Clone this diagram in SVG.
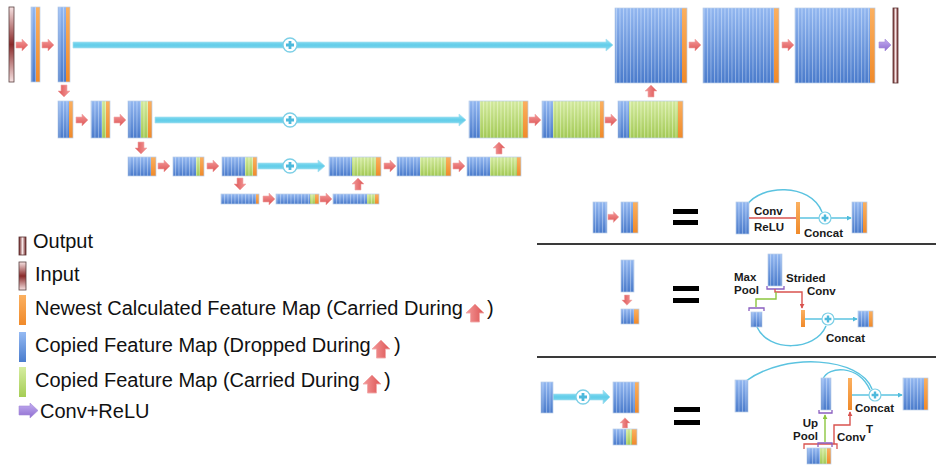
<svg xmlns="http://www.w3.org/2000/svg" xmlns:xlink="http://www.w3.org/1999/xlink" width="936" height="465" viewBox="0 0 936 465">
  <defs>
    <linearGradient id="gBlue" x1="0" y1="0" x2="0" y2="1">
      <stop offset="0" stop-color="#95baf3"/>
      <stop offset="1" stop-color="#4a7ccd"/>
    </linearGradient>
    <linearGradient id="gGreen" x1="0" y1="0" x2="0" y2="1">
      <stop offset="0" stop-color="#d6ed9f"/>
      <stop offset="1" stop-color="#a5cd55"/>
    </linearGradient>
    <linearGradient id="gOrange" x1="0" y1="0" x2="0" y2="1">
      <stop offset="0" stop-color="#fbb060"/>
      <stop offset="1" stop-color="#f08a2a"/>
    </linearGradient>
    <linearGradient id="gRed" x1="0" y1="0" x2="0" y2="1">
      <stop offset="0" stop-color="#f49a9a"/>
      <stop offset="1" stop-color="#dd5454"/>
    </linearGradient>
    <linearGradient id="gPurple" x1="0" y1="0" x2="0" y2="1">
      <stop offset="0" stop-color="#c3aef0"/>
      <stop offset="1" stop-color="#8e6cd0"/>
    </linearGradient>
    <linearGradient id="gCyan" x1="0" y1="0" x2="0" y2="1">
      <stop offset="0" stop-color="#9fe6f7"/>
      <stop offset="0.5" stop-color="#62cde9"/>
      <stop offset="1" stop-color="#8fdcf0"/>
    </linearGradient>
    <linearGradient id="gIn" x1="0" y1="0" x2="0" y2="1">
      <stop offset="0" stop-color="#f6e2e2"/>
      <stop offset="0.5" stop-color="#8a2a2a"/>
      <stop offset="1" stop-color="#f6e2e2"/>
    </linearGradient>
    <linearGradient id="gOut" x1="0" y1="0" x2="1" y2="0">
      <stop offset="0" stop-color="#6a1d1d"/>
      <stop offset="0.5" stop-color="#f6e6e6"/>
      <stop offset="1" stop-color="#6a1d1d"/>
    </linearGradient>
    <pattern id="stripes" patternUnits="userSpaceOnUse" width="3.5" height="10">
      <rect x="0" y="0" width="0.9" height="10" fill="#ffffff" fill-opacity="0.35"/>
      <rect x="2.2" y="0" width="0.6" height="10" fill="#203060" fill-opacity="0.08"/>
    </pattern>
    <path id="ra" d="M0,-3H6V-6L12,0L6,6V3H0Z"/>
    <g id="plus">
      <circle r="7" fill="#ffffff" stroke="#7ccfe6" stroke-width="1.3"/>
      <path d="M-4,0H4M0,-4V4" stroke="#4db9dc" stroke-width="2.8"/>
    </g>
    <g id="plusS">
      <circle r="6" fill="#ffffff" stroke="#7ccfe6" stroke-width="1.2"/>
      <path d="M-3.4,0H3.4M0,-3.4V3.4" stroke="#4db9dc" stroke-width="2.4"/>
    </g>
    <marker id="mc" viewBox="0 0 6 6" refX="5" refY="3" markerWidth="5" markerHeight="5" orient="auto" markerUnits="userSpaceOnUse">
      <path d="M0,0L6,3L0,6Z" fill="#4fbcdc"/>
    </marker>
    <marker id="mr" viewBox="0 0 6 6" refX="5" refY="3" markerWidth="5" markerHeight="5" orient="auto" markerUnits="userSpaceOnUse">
      <path d="M0,0L6,3L0,6Z" fill="#d9534f"/>
    </marker>
    <marker id="mg" viewBox="0 0 6 6" refX="5" refY="3" markerWidth="5" markerHeight="5" orient="auto" markerUnits="userSpaceOnUse">
      <path d="M0,0L6,3L0,6Z" fill="#8cc63f"/>
    </marker>
    <style>
      .b{fill:url(#gBlue)}
      .g{fill:url(#gGreen)}
      .o{fill:url(#gOrange)}
      .st{fill:url(#stripes)}
      .fr{fill:none;stroke:#b9cde8;stroke-width:0.7}
      .ra{fill:url(#gRed);stroke:#f0aaaa;stroke-width:0.6}
      .pa{fill:url(#gPurple);stroke:#a58bd9;stroke-width:0.6}
      .cy{fill:url(#gCyan);stroke:#a6e0f0;stroke-width:0.7}
      .ln{fill:none;stroke:#5bc3e0;stroke-width:1.5}
      .lr{fill:none;stroke:#d9534f;stroke-width:1.4}
      .lg{fill:none;stroke:#8cc63f;stroke-width:1.4}
      .br{fill:none;stroke:#8a5fc0;stroke-width:1.3}
      .brr{fill:none;stroke:#d9534f;stroke-width:1.3}
      .eq{fill:#000000}
      .sep{stroke:#3a3a3a;stroke-width:2}
      .lbl{font-family:"Liberation Sans",Arial,sans-serif;font-weight:bold;font-size:11.5px;fill:#1a1a1a}
      .leg{font-family:"Liberation Sans",Arial,sans-serif;font-size:20px;fill:#111111}
    </style>
  </defs>

  <rect width="936" height="465" fill="#ffffff"/>

  <!-- connectors: skip links, arrows -->
  <g id="connectors">
    <path class="cy" d="M73,42H606V39L613,45L606,51V48H73Z"/>
    <use href="#plus" x="290" y="45"/>
    <path class="cy" d="M155,117H459V114L466,120L459,126V123H155Z"/>
    <use href="#plus" x="290" y="120"/>
    <path class="cy" d="M258,163H318V160L325,166L318,172V169H258Z"/>
    <use href="#plus" x="290" y="166"/>

    <use href="#ra" class="ra" transform="translate(16,45)"/>
    <use href="#ra" class="ra" transform="translate(42,45)"/>
    <use href="#ra" class="ra" transform="translate(64,85) rotate(90)"/>
    <use href="#ra" class="ra" transform="translate(76,120)"/>
    <use href="#ra" class="ra" transform="translate(114,120)"/>
    <use href="#ra" class="ra" transform="translate(141,142) rotate(90)"/>
    <use href="#ra" class="ra" transform="translate(158,166)"/>
    <use href="#ra" class="ra" transform="translate(207,166)"/>
    <use href="#ra" class="ra" transform="translate(240,178) rotate(90)"/>
    <use href="#ra" class="ra" transform="translate(263,199)"/>
    <use href="#ra" class="ra" transform="translate(320,199)"/>
    <use href="#ra" class="ra" transform="translate(358,190) rotate(-90)"/>
    <use href="#ra" class="ra" transform="translate(384,166)"/>
    <use href="#ra" class="ra" transform="translate(453,166)"/>
    <use href="#ra" class="ra" transform="translate(499,154) rotate(-90)"/>
    <use href="#ra" class="ra" transform="translate(529,120)"/>
    <use href="#ra" class="ra" transform="translate(605,120)"/>
    <use href="#ra" class="ra" transform="translate(651,97) rotate(-90)"/>
    <use href="#ra" class="ra" transform="translate(689,45)"/>
    <use href="#ra" class="ra" transform="translate(782,45)"/>
    <use href="#ra" class="pa" transform="translate(879,45)"/>
  </g>

  <!-- level 1 -->
  <g id="input"><rect x="9" y="7" width="5" height="75" fill="url(#gIn)" stroke="#5a4040" stroke-width="0.8"/></g>
  <g id="e1"><rect class="b" x="31" y="7" width="5" height="75"/><rect class="st" x="31" y="7" width="5" height="75"/><rect class="o" x="36" y="7" width="4" height="75"/><rect class="fr" x="31" y="7" width="9" height="75"/></g>
  <g id="e2"><rect class="b" x="58" y="7" width="8" height="75"/><rect class="st" x="58" y="7" width="8" height="75"/><rect class="o" x="66" y="7" width="4" height="75"/><rect class="fr" x="58" y="7" width="12" height="75"/></g>
  <g id="d1"><rect class="b" x="615" y="8" width="67" height="75"/><rect class="st" x="615" y="8" width="67" height="75"/><rect class="o" x="682" y="8" width="5" height="75"/><rect class="fr" x="615" y="8" width="72" height="75"/></g>
  <g id="d2"><rect class="b" x="703" y="8" width="71" height="75"/><rect class="st" x="703" y="8" width="71" height="75"/><rect class="o" x="774" y="8" width="5" height="75"/><rect class="fr" x="703" y="8" width="76" height="75"/></g>
  <g id="d3"><rect class="b" x="795" y="8" width="75" height="75"/><rect class="st" x="795" y="8" width="75" height="75"/><rect class="o" x="870" y="8" width="5" height="75"/><rect class="fr" x="795" y="8" width="80" height="75"/></g>
  <g id="output"><rect x="893" y="8" width="5" height="75" fill="url(#gOut)" stroke="#5a3030" stroke-width="0.8"/></g>

  <!-- level 2 -->
  <g id="e3"><rect class="b" x="58" y="101" width="11" height="37"/><rect class="st" x="58" y="101" width="11" height="37"/><rect class="o" x="69" y="101" width="4" height="37"/><rect class="fr" x="58" y="101" width="15" height="37"/></g>
  <g id="e4"><rect class="b" x="91" y="101" width="11" height="37"/><rect class="g" x="102" y="101" width="4" height="37"/><rect class="st" x="91" y="101" width="15" height="37"/><rect class="o" x="106" y="101" width="4" height="37"/><rect class="fr" x="91" y="101" width="19" height="37"/></g>
  <g id="e5"><rect class="b" x="128" y="101" width="13" height="37"/><rect class="g" x="141" y="101" width="7" height="37"/><rect class="st" x="128" y="101" width="20" height="37"/><rect class="o" x="148" y="101" width="4" height="37"/><rect class="fr" x="128" y="101" width="24" height="37"/></g>
  <g id="u2a"><rect class="b" x="469" y="101" width="11" height="37"/><rect class="g" x="480" y="101" width="43" height="37"/><rect class="st" x="469" y="101" width="54" height="37"/><rect class="o" x="523" y="101" width="5" height="37"/><rect class="fr" x="469" y="101" width="59" height="37"/></g>
  <g id="u2b"><rect class="b" x="542" y="101" width="11" height="37"/><rect class="g" x="553" y="101" width="47" height="37"/><rect class="st" x="542" y="101" width="58" height="37"/><rect class="o" x="600" y="101" width="4" height="37"/><rect class="fr" x="542" y="101" width="62" height="37"/></g>
  <g id="u2c"><rect class="b" x="618" y="101" width="11" height="37"/><rect class="g" x="629" y="101" width="49" height="37"/><rect class="st" x="618" y="101" width="60" height="37"/><rect class="o" x="678" y="101" width="5" height="37"/><rect class="fr" x="618" y="101" width="65" height="37"/></g>

  <!-- level 3 -->
  <g id="e6"><rect class="b" x="128" y="157" width="23" height="19"/><rect class="st" x="128" y="157" width="23" height="19"/><rect class="o" x="151" y="157" width="5" height="19"/><rect class="fr" x="128" y="157" width="28" height="19"/></g>
  <g id="e7"><rect class="b" x="173" y="157" width="23" height="19"/><rect class="g" x="196" y="157" width="4" height="19"/><rect class="st" x="173" y="157" width="27" height="19"/><rect class="o" x="200" y="157" width="4" height="19"/><rect class="fr" x="173" y="157" width="31" height="19"/></g>
  <g id="e8"><rect class="b" x="222" y="157" width="23" height="19"/><rect class="g" x="245" y="157" width="8" height="19"/><rect class="st" x="222" y="157" width="31" height="19"/><rect class="o" x="253" y="157" width="4" height="19"/><rect class="fr" x="222" y="157" width="35" height="19"/></g>
  <g id="u3a"><rect class="b" x="329" y="157" width="23" height="19"/><rect class="g" x="352" y="157" width="24" height="19"/><rect class="st" x="329" y="157" width="47" height="19"/><rect class="o" x="376" y="157" width="5" height="19"/><rect class="fr" x="329" y="157" width="52" height="19"/></g>
  <g id="u3b"><rect class="b" x="397" y="157" width="23" height="19"/><rect class="g" x="420" y="157" width="26" height="19"/><rect class="st" x="397" y="157" width="49" height="19"/><rect class="o" x="446" y="157" width="5" height="19"/><rect class="fr" x="397" y="157" width="54" height="19"/></g>
  <g id="u3c"><rect class="b" x="467" y="157" width="23" height="19"/><rect class="g" x="490" y="157" width="27" height="19"/><rect class="st" x="467" y="157" width="50" height="19"/><rect class="o" x="517" y="157" width="4" height="19"/><rect class="fr" x="467" y="157" width="54" height="19"/></g>

  <!-- level 4 -->
  <g id="b1"><rect class="b" x="221" y="194" width="35" height="10"/><rect class="st" x="221" y="194" width="35" height="10"/><rect class="o" x="256" y="194" width="3" height="10"/><rect class="fr" x="221" y="194" width="38" height="10"/></g>
  <g id="b2"><rect class="b" x="276" y="194" width="34" height="10"/><rect class="g" x="310" y="194" width="5" height="10"/><rect class="st" x="276" y="194" width="39" height="10"/><rect class="o" x="315" y="194" width="4" height="10"/><rect class="fr" x="276" y="194" width="43" height="10"/></g>
  <g id="b3"><rect class="b" x="333" y="194" width="34" height="10"/><rect class="g" x="367" y="194" width="8" height="10"/><rect class="st" x="333" y="194" width="42" height="10"/><rect class="o" x="375" y="194" width="4" height="10"/><rect class="fr" x="333" y="194" width="46" height="10"/></g>

  <!-- legend -->
  <g id="legend">
    <rect x="19" y="237" width="7" height="18" fill="url(#gOut)" stroke="#5a3030" stroke-width="0.8"/>
    <text class="leg" x="33" y="248">Output</text>
    <rect x="19" y="262" width="7" height="28" fill="url(#gIn)" stroke="#5a4040" stroke-width="0.8"/>
    <text class="leg" x="35" y="281">Input</text>
    <rect class="o" x="19" y="295" width="7" height="30"/>
    <text class="leg" x="35" y="315">Newest Calculated Feature Map (Carried During</text>
    <use href="#ra" class="ra" transform="translate(475,322) rotate(-90) scale(1.5)"/>
    <text class="leg" x="487" y="315">)</text>
    <rect class="b" x="19" y="332" width="7" height="30"/>
    <text class="leg" x="35" y="352">Copied Feature Map (Dropped During</text>
    <use href="#ra" class="ra" transform="translate(381,358) rotate(-90) scale(1.5)"/>
    <text class="leg" x="394" y="352">)</text>
    <rect class="g" x="19" y="367" width="7" height="30"/>
    <text class="leg" x="35" y="387">Copied Feature Map (Carried During</text>
    <use href="#ra" class="ra" transform="translate(372,393) rotate(-90) scale(1.5)"/>
    <text class="leg" x="384" y="387">)</text>
    <path class="pa" d="M19,406H30V403L38,410.5L30,418V415H19Z"/>
    <text class="leg" x="40" y="418">Conv+ReLU</text>
  </g>

  <!-- separators -->
  <line class="sep" x1="537" y1="244" x2="936" y2="244"/>
  <line class="sep" x1="537" y1="357" x2="936" y2="357"/>

  <!-- panel 1: conv block -->
  <g id="p1-left">
    <rect class="b" x="593" y="202" width="14" height="31"/><rect class="st" x="593" y="202" width="14" height="31"/><rect class="fr" x="593" y="202" width="14" height="31"/>
    <use href="#ra" class="ra" transform="translate(608,217) scale(0.9)"/>
    <rect class="b" x="621" y="202" width="12" height="31"/><rect class="st" x="621" y="202" width="12" height="31"/><rect class="o" x="633" y="202" width="5" height="31"/><rect class="fr" x="621" y="202" width="17" height="31"/>
  </g>
  <g id="p1-eq"><rect class="eq" x="673" y="209" width="25" height="5"/><rect class="eq" x="673" y="220" width="25" height="5"/></g>
  <g id="p1-right">
    <path class="ln" d="M747,205C760,185 810,182 822,212"/>
    <rect class="b" x="736" y="202" width="13" height="32"/><rect class="st" x="736" y="202" width="13" height="32"/><rect class="fr" x="736" y="202" width="13" height="32"/>
    <line class="lr" x1="749" y1="218" x2="796" y2="218"/>
    <text class="lbl" x="754" y="215">Conv</text>
    <text class="lbl" x="754" y="231">ReLU</text>
    <rect class="o" x="796" y="202" width="4" height="32"/>
    <line class="ln" x1="800" y1="218" x2="851" y2="218" marker-end="url(#mc)"/>
    <use href="#plusS" x="825" y="218"/>
    <text class="lbl" x="804" y="237">Concat</text>
    <rect class="b" x="852" y="202" width="11" height="31"/><rect class="st" x="852" y="202" width="11" height="31"/><rect class="o" x="863" y="202" width="4" height="31"/><rect class="fr" x="852" y="202" width="15" height="31"/>
  </g>

  <!-- panel 2: down-sampling block -->
  <g id="p2-left">
    <rect class="b" x="621" y="260" width="13" height="32"/><rect class="st" x="621" y="260" width="13" height="32"/><rect class="fr" x="621" y="260" width="13" height="32"/>
    <use href="#ra" class="ra" transform="translate(627,295) rotate(90) scale(0.85)"/>
    <rect class="b" x="621" y="309" width="13" height="15"/><rect class="st" x="621" y="309" width="13" height="15"/><rect class="o" x="634" y="309" width="5" height="15"/><rect class="fr" x="621" y="309" width="18" height="15"/>
  </g>
  <g id="p2-eq"><rect class="eq" x="673" y="286" width="26" height="5"/><rect class="eq" x="673" y="298" width="26" height="5"/></g>
  <g id="p2-right">
    <path class="ln" d="M757,327C768,352 815,352 826,326"/>
    <rect class="b" x="768" y="254" width="14" height="32"/><rect class="st" x="768" y="254" width="14" height="32"/><rect class="fr" x="768" y="254" width="14" height="32"/>
    <path class="br" d="M767,286V289H784V286"/>
    <path class="lr" d="M775,289V292H802V308" marker-end="url(#mr)"/>
    <path class="lg" d="M776,292V299H756V307"/>
    <path class="br" d="M749,311V308H764V311"/>
    <rect class="b" x="751" y="312" width="11" height="15"/><rect class="st" x="751" y="312" width="11" height="15"/><rect class="fr" x="751" y="312" width="11" height="15"/>
    <rect class="o" x="801" y="310" width="4" height="17"/>
    <line class="ln" x1="805" y1="319" x2="857" y2="319" marker-end="url(#mc)"/>
    <use href="#plusS" x="828" y="319"/>
    <rect class="b" x="858" y="311" width="11" height="16"/><rect class="st" x="858" y="311" width="11" height="16"/><rect class="o" x="869" y="311" width="4" height="16"/><rect class="fr" x="858" y="311" width="15" height="16"/>
    <text class="lbl" x="734" y="281">Max</text>
    <text class="lbl" x="734" y="294">Pool</text>
    <text class="lbl" x="786" y="282">Strided</text>
    <text class="lbl" x="807" y="295">Conv</text>
    <text class="lbl" x="826" y="342">Concat</text>
  </g>

  <!-- panel 3: up-sampling block -->
  <g id="p3-left">
    <path class="cy" d="M553,394H603V390L610,397L603,404V400H553Z"/>
    <use href="#plus" x="583" y="397"/>
    <rect class="b" x="541" y="382" width="12" height="31"/><rect class="st" x="541" y="382" width="12" height="31"/><rect class="fr" x="541" y="382" width="12" height="31"/>
    <rect class="b" x="613" y="382" width="22" height="31"/><rect class="st" x="613" y="382" width="22" height="31"/><rect class="o" x="635" y="382" width="4" height="31"/><rect class="fr" x="613" y="382" width="26" height="31"/>
    <use href="#ra" class="ra" transform="translate(625,428) rotate(-90) scale(0.85)"/>
    <rect class="b" x="613" y="429" width="13" height="16"/><rect class="g" x="626" y="429" width="6" height="16"/><rect class="st" x="613" y="429" width="19" height="16"/><rect class="o" x="632" y="429" width="5" height="16"/><rect class="fr" x="613" y="429" width="24" height="16"/>
  </g>
  <g id="p3-eq"><rect class="eq" x="674" y="407" width="26" height="5"/><rect class="eq" x="674" y="420" width="26" height="5"/></g>
  <g id="p3-right">
    <path class="ln" d="M746,381C785,352 860,357 872,389"/>
    <path class="ln" d="M823,379C828,366 858,364 870,390"/>
    <rect class="b" x="735" y="380" width="13" height="32"/><rect class="st" x="735" y="380" width="13" height="32"/><rect class="fr" x="735" y="380" width="13" height="32"/>
    <rect class="b" x="821" y="378" width="10" height="32"/><rect class="st" x="821" y="378" width="10" height="32"/><rect class="fr" x="821" y="378" width="10" height="32"/>
    <path class="br" d="M819,410V413H832V410"/>
    <rect class="o" x="848" y="378" width="4" height="32"/>
    <line class="ln" x1="852" y1="395" x2="902" y2="395" marker-end="url(#mc)"/>
    <use href="#plusS" x="875" y="395"/>
    <rect class="b" x="903" y="378" width="21" height="32"/><rect class="st" x="903" y="378" width="21" height="32"/><rect class="o" x="924" y="378" width="4" height="32"/><rect class="fr" x="903" y="378" width="25" height="32"/>
    <line class="lg" x1="825" y1="442" x2="825" y2="415" marker-end="url(#mg)"/>
    <path class="lr" d="M834,444V425H850V412" marker-end="url(#mr)"/>
    <path class="brr" d="M804,449V444H837V449"/>
    <path class="br" d="M818,447V443H832V447"/>
    <rect class="b" x="807" y="448" width="13" height="16"/><rect class="g" x="820" y="448" width="7" height="16"/><rect class="st" x="807" y="448" width="20" height="16"/><rect class="o" x="827" y="448" width="4" height="16"/><rect class="fr" x="807" y="448" width="24" height="16"/>
    <text class="lbl" x="855" y="412">Concat</text>
    <text class="lbl" x="818" y="427" text-anchor="end">Up</text>
    <text class="lbl" x="818" y="440" text-anchor="end">Pool</text>
    <text class="lbl" x="837" y="441">Conv</text>
    <text class="lbl" x="866" y="433" font-size="8">T</text>
  </g>
</svg>
